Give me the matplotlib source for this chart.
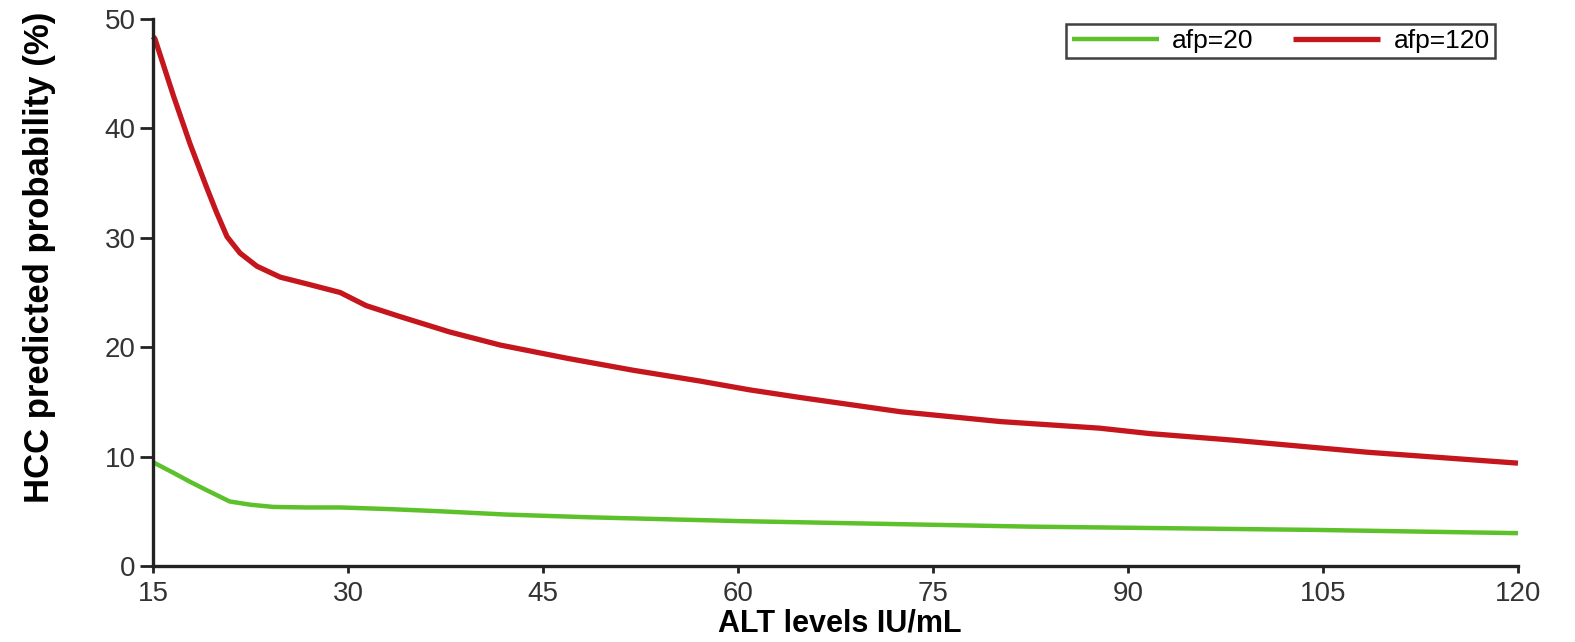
import matplotlib.pyplot as plt
import numpy as np

plt.rcParams['font.family'] = ['Liberation Sans', 'DejaVu Sans']

# ALT levels (IU/mL) and predicted HCC probability (%)
alt_120 = [15, 15.15, 16.6, 17.85, 19.1, 19.9, 20.7, 21.7, 23.0, 24.8, 26.8, 29.4,
           31.4, 34.0, 37.8, 41.7, 46.8, 51.9, 57.1, 60.9, 64.8, 72.5, 80.2, 87.8,
           91.7, 98.1, 108.4, 120]
prob_120 = [48.4, 48.2, 42.9, 38.6, 34.7, 32.3, 30.1, 28.6, 27.4, 26.4, 25.8, 25.0,
            23.8, 22.8, 21.4, 20.2, 19.0, 17.9, 16.9, 16.1, 15.4, 14.1, 13.2, 12.6,
            12.1, 11.5, 10.4, 9.4]

alt_20 = [15, 15.15, 16.6, 17.85, 19.1, 20.9, 22.5, 24.25, 26.8, 29.4, 33.2, 37.1,
          42.2, 48.6, 60.2, 82.3, 104.3, 120]
prob_20 = [9.5, 9.4, 8.5, 7.7, 6.95, 5.9, 5.6, 5.4, 5.35, 5.35, 5.2, 5.0,
           4.7, 4.45, 4.1, 3.6, 3.3, 3.0]

xticks = [15, 30, 45, 60, 75, 90, 105, 120]
yticks = [0, 10, 20, 30, 40, 50]

fig = plt.figure(figsize=(15.75, 6.42), dpi=100)
ax = fig.add_axes([0.0971, 0.1184, 0.8667, 0.852])

ax.plot(alt_20, prob_20, color='#5cc12a', lw=3.2, label='afp=20', clip_on=False,
        solid_capstyle='butt', solid_joinstyle='round')
ax.plot(alt_120, prob_120, color='#c4161c', lw=3.8, label='afp=120', clip_on=False,
        solid_capstyle='butt', solid_joinstyle='round')

ax.set_xlim(15, 120)
ax.set_ylim(0, 50)
ax.set_xticks(xticks)
ax.set_yticks(yticks)

for s in ['top', 'right']:
    ax.spines[s].set_visible(False)
for s in ['left', 'bottom']:
    ax.spines[s].set_linewidth(2.4)
    ax.spines[s].set_color('#222222')

ax.tick_params(direction='out', width=2, colors='#222222',
               labelsize=20, labelcolor='#333333')
ax.tick_params(axis='x', length=5, pad=6)
ax.tick_params(axis='y', length=9.5, pad=3)

ax.set_xlabel('ALT levels IU/mL', fontsize=22, fontweight='bold')
ax.xaxis.set_label_coords(0.503, -0.078)
ax.set_ylabel('HCC predicted probability (%)', fontsize=25, fontweight='bold')
ax.yaxis.set_label_coords(-0.071, 0.565)

leg = ax.legend(loc='upper right', ncol=2, fontsize=19, frameon=True, fancybox=False,
                handlelength=3.3, columnspacing=1.5, handletextpad=0.5,
                borderpad=0.2, borderaxespad=0, bbox_to_anchor=(0.983, 0.991))
leg.get_frame().set_edgecolor('#111111')
leg.get_frame().set_linewidth(1.8)

plt.savefig('out.png', dpi=100)
